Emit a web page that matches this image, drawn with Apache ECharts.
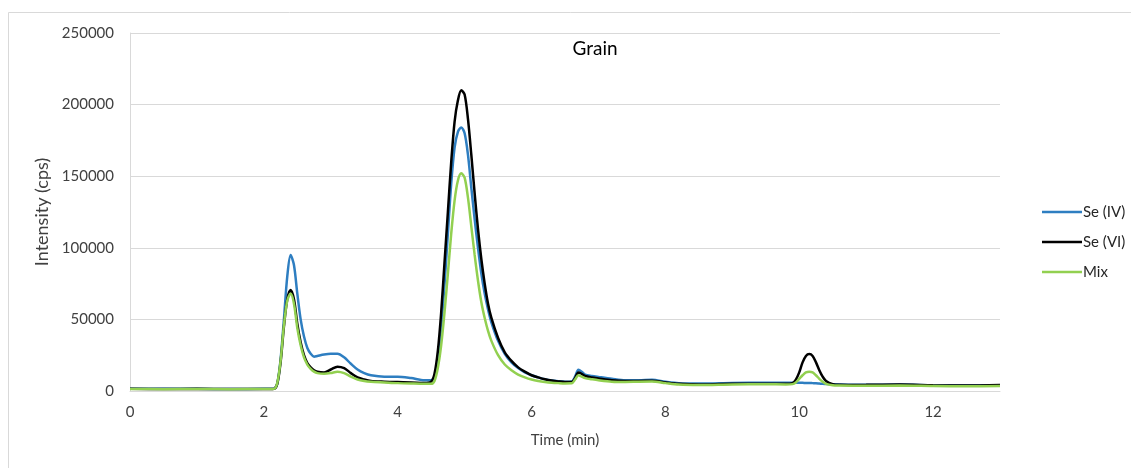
<!DOCTYPE html>
<html>
<head>
<meta charset="utf-8">
<script src="https://cdn.jsdelivr.net/npm/echarts@6/dist/echarts.min.js"></script>
<style>
  html, body { margin: 0; padding: 0; background: #fff; }
  #chart { width: 1131px; height: 468px; }
</style>
</head>
<body>
<div id="chart"></div>
<script>
// Retention times (min), shared by all three traces
const times = [
  0, 0.5, 1.0, 1.5, 2.0, 2.1, 2.15, 2.2, 2.25, 2.3, 2.35, 2.4, 2.45, 2.5, 2.55, 2.6, 2.65, 2.7, 2.75, 2.8,
  2.9, 3.0, 3.1, 3.2, 3.3, 3.4, 3.5, 3.6, 3.8, 4.0, 4.2, 4.4, 4.5, 4.55, 4.6, 4.65, 4.7, 4.75, 4.8, 4.85,
  4.9, 4.95, 5.0, 5.05, 5.1, 5.15, 5.2, 5.25, 5.3, 5.35, 5.4, 5.5, 5.6, 5.7, 5.8, 5.9, 6.0, 6.1, 6.2, 6.3,
  6.4, 6.5, 6.6, 6.65, 6.7, 6.75, 6.8, 6.9, 7.0, 7.2, 7.4, 7.6, 7.8, 8.0, 8.2, 8.5, 9.0, 9.5, 9.8, 9.9,
  9.95, 10.0, 10.05, 10.1, 10.15, 10.2, 10.25, 10.3, 10.35, 10.4, 10.5, 10.6, 10.8, 11.0, 11.5, 12.0, 12.5, 13.0
];

// Intensity (cps)
const seIV = [
  1500, 1500, 1500, 1400, 1500, 1500, 1600, 5000, 22000, 50000, 80000, 95000, 88000, 68000, 50000, 38000, 30000, 26000, 24000, 24500,
  25500, 26000, 26000, 23500, 19000, 15000, 12500, 11000, 10000, 10000, 9000, 7500, 7500, 10000, 22000, 45000, 75000, 110000, 145000, 170000,
  181000, 184000, 180000, 165000, 142000, 120000, 100000, 82000, 68000, 57000, 48000, 35000, 26000, 20000, 16000, 13000, 11000, 9500, 8200, 7300,
  6800, 6500, 6700, 10000, 14800, 13500, 11500, 10500, 9800, 8500, 7500, 7500, 7800, 6500, 5500, 5200, 5600, 5800, 5800, 5800,
  5800, 5700, 5700, 5600, 5600, 5500, 5400, 5200, 5000, 4900, 4700, 4500, 4300, 4300, 4500, 4000, 3800, 4000
];

const seVI = [
  1500, 1400, 1500, 1400, 1400, 1400, 1500, 5000, 20000, 45000, 64000, 70500, 64000, 47000, 34000, 25000, 19500, 16500, 14500, 13500,
  13000, 15000, 17000, 16000, 12500, 9500, 8000, 7000, 6500, 6200, 6000, 5500, 6500, 12000, 28000, 55000, 90000, 125000, 160000, 188000,
  203000, 210000, 207000, 190000, 165000, 138000, 113000, 92000, 75000, 61000, 51000, 37000, 27000, 21000, 16500, 13500, 11000, 9500, 8200, 7300,
  6700, 6300, 6300, 9000, 13000, 12000, 10500, 9500, 8800, 7500, 7000, 7000, 7200, 6000, 5000, 4500, 5000, 5000, 5000, 5500,
  8000, 13000, 20000, 24500, 25800, 24500, 20000, 14500, 10000, 7000, 4800, 4300, 4200, 4300, 4500, 4000, 3800, 4200
];

const mix = [
  1400, 1300, 1400, 1300, 1400, 1400, 1500, 5500, 21000, 46000, 63000, 68000, 61000, 44000, 32000, 23500, 18500, 15500, 13500, 12500,
  12000, 12500, 13500, 12500, 10000, 8000, 7000, 6500, 6000, 5500, 5200, 5000, 5000, 7000, 16000, 32000, 55000, 82000, 110000, 133000,
  147000, 152000, 149000, 135000, 115000, 95000, 77000, 62000, 51000, 42000, 35000, 25000, 18500, 14500, 11500, 9500, 8000, 7000, 6300, 5800,
  5500, 5300, 5400, 8000, 11000, 10000, 9000, 8200, 7500, 6500, 6300, 6500, 6600, 5500, 4500, 4200, 4600, 4700, 4600, 4800,
  6000, 8500, 11000, 13000, 13500, 13000, 11000, 8500, 6500, 5000, 4000, 3800, 3700, 3700, 3800, 3500, 3300, 3500
];

const seriesNames = ['Se (IV)', 'Se (VI)', 'Mix'];
const seriesValues = [seIV, seVI, mix];
const seriesColors = ['#2E7EC1', '#000000', '#92D050'];

const yTicks = { min: 0, max: 250000, interval: 50000 };
const xTicks = { min: 0, max: 13, interval: 2 };

const FONT = 'Lato, "Open Sans", sans-serif';
const chart = echarts.init(document.getElementById('chart'), null, { renderer: 'canvas' });

chart.setOption({
  animation: false,
  backgroundColor: '#ffffff',
  graphic: [{
    type: 'rect',
    shape: { x: 8.5, y: 12.5, width: 1200, height: 500 },
    style: { fill: 'none', stroke: '#d9d9d9', lineWidth: 1 },
    silent: true,
    z: -10
  }],
  title: {
    text: 'Grain',
    left: 590,
    top: 34,
    textAlign: 'center',
    textStyle: { fontFamily: FONT, fontSize: 19, fontWeight: 'normal', color: '#000' }
  },
  grid: { left: 130, right: 131, top: 33, bottom: 77, containLabel: false },
  legend: {
    orient: 'vertical',
    left: 1037,
    top: 198,
    itemWidth: 40,
    itemHeight: 2.5,
    itemGap: 12,
    icon: 'rect',
    data: seriesNames,
    textStyle: { fontFamily: FONT, fontSize: 15, color: '#262626', lineHeight: 18, padding: [0, 0, 0, -4] }
  },
  xAxis: {
    type: 'value',
    min: xTicks.min,
    max: xTicks.max,
    interval: xTicks.interval,
    name: 'Time (min)',
    nameLocation: 'middle',
    nameGap: 42,
    nameTextStyle: { fontFamily: FONT, fontSize: 15, color: '#404040' },
    axisLine: { show: true, lineStyle: { color: '#d9d9d9', width: 1 } },
    axisTick: { show: false },
    splitLine: { show: false },
    axisLabel: { showMaxLabel: false, margin: 14, fontFamily: FONT, fontSize: 15, color: '#404040' }
  },
  yAxis: {
    type: 'value',
    min: yTicks.min,
    max: yTicks.max,
    interval: yTicks.interval,
    name: 'Intensity (cps)',
    nameLocation: 'middle',
    nameGap: 74,
    nameTextStyle: { fontFamily: FONT, fontSize: 18, color: '#404040' },
    axisLine: { show: true, lineStyle: { color: '#d9d9d9', width: 1 } },
    axisTick: { show: false },
    splitLine: { show: true, lineStyle: { color: '#d9d9d9', width: 1 } },
    axisLabel: {
      margin: 16, fontFamily: FONT, fontSize: 15, color: '#404040',
      formatter: (v) => String(v)
    }
  },
  series: seriesNames.map((name, i) => ({
    name: name,
    type: 'line',
    data: times.map((t, k) => [t, seriesValues[i][k]]),
    showSymbol: false,
    smooth: 0.3,
    lineStyle: { color: seriesColors[i], width: 2.5 },
    itemStyle: { color: seriesColors[i] }
  }))
});
</script>
</body>
</html>
